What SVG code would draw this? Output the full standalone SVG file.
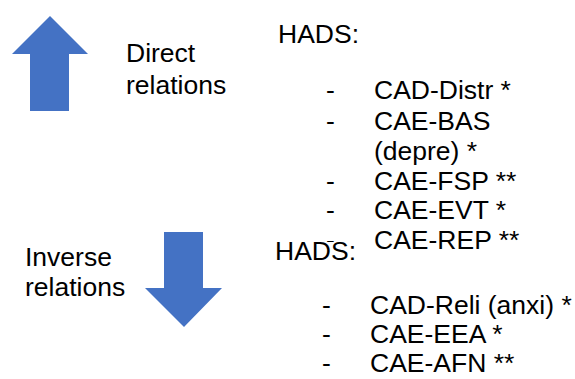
<svg xmlns="http://www.w3.org/2000/svg" width="575" height="379" viewBox="0 0 575 379">
<style>
.t{font-family:"Liberation Sans",Arial,sans-serif;font-size:26.5px;fill:#000}
.arrow{fill:#4472C4}
</style>
<rect width="575" height="379" fill="#fff"/>
<g id="connectors"></g>
<g id="up-arrow">
<polygon class="arrow" points="50,16 88,54 69,54 69,111 30,111 30,54 12,54"/>
</g>
<g id="direct-label">
<text class="t" x="126" y="62">Direct</text>
<text class="t" x="126" y="94">relations</text>
</g>
<g id="down-arrow">
<polygon class="arrow" points="164,232 203,232 203,288 222,288 184,327 145,288 164,288"/>
</g>
<g id="inverse-label">
<text class="t" x="25" y="266">Inverse</text>
<text class="t" x="25" y="296">relations</text>
</g>
<g id="direct-list">
<text class="t" x="278" y="43">HADS:</text>
<text class="t" x="326" y="99">-</text>
<text class="t" x="374" y="99">CAD-Distr *</text>
<text class="t" x="326" y="130">-</text>
<text class="t" x="374" y="130">CAE-BAS</text>
<text class="t" x="374" y="160">(depre) *</text>
<text class="t" x="326" y="190">-</text>
<text class="t" x="374" y="190">CAE-FSP **</text>
<text class="t" x="326" y="219">-</text>
<text class="t" x="374" y="219">CAE-EVT *</text>
<text class="t" x="326" y="249">-</text>
<text class="t" x="374" y="249">CAE-REP **</text>
</g>
<g id="inverse-list">
<rect x="272" y="242" width="94" height="26" fill="#fff"/>
<text class="t" x="275" y="260">HADS:</text>
<text class="t" x="322" y="314">-</text>
<text class="t" x="370" y="314">CAD-Reli (anxi) *</text>
<text class="t" x="322" y="343">-</text>
<text class="t" x="370" y="343">CAE-EEA *</text>
<text class="t" x="322" y="372">-</text>
<text class="t" x="370" y="372">CAE-AFN **</text>
</g>
</svg>
